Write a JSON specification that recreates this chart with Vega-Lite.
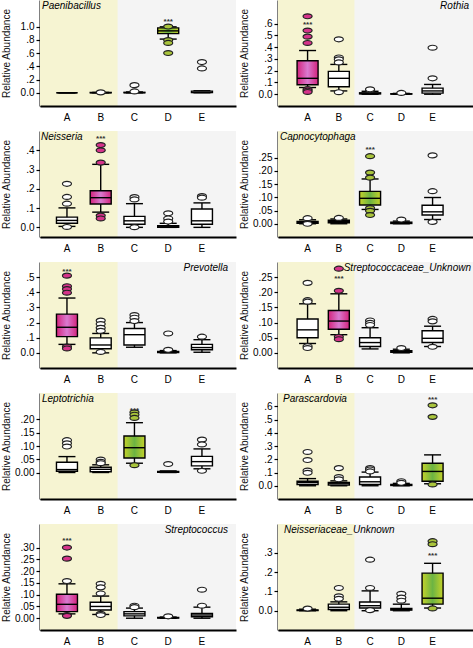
{
"$schema": "https://vega.github.io/schema/vega-lite/v6.json",
"padding": {"left": 0, "top": 0, "right": 0, "bottom": 0},
"background": "white",
"columns": 2,
"bounds": "flush",
"spacing": {"row": 25, "column": 42},
"config": {
  "font": "Liberation Sans",
  "view": {"stroke": null, "fill": "#f4f4f4"},
  "axisX": {"title": null, "ticks": false, "labelAngle": 0, "labelPadding": 6, "domainWidth": 2, "domainColor": "black", "labelFontSize": 10, "labelColor": "black", "labelFont": "Liberation Sans"},
  "axisY": {"grid": false, "domainWidth": 2, "domainColor": "black", "tickColor": "black", "tickWidth": 1.2, "tickSize": 4, "labelPadding": 2, "labelFontSize": 10, "labelColor": "black", "labelFont": "Liberation Sans", "labelFlush": false, "labelOverlap": false, "titleFontSize": 10, "titleFontWeight": "normal", "titleColor": "#111", "titleFont": "Liberation Sans", "titleX": -29, "titleBaseline": "bottom"},
  "title": {"fontSize": 10, "fontStyle": "italic", "fontWeight": "normal", "font": "Liberation Sans", "color": "black", "frame": "group", "offset": -11, "baseline": "alphabetic"}
},
"datasets": {
"rows": [
{"panel":"Paenibacillus","group":"A","lo":0,"q1":0,"median":0,"q3":0,"hi":0,"sig":0},
{"panel":"Paenibacillus","group":"B","lo":0,"q1":0,"median":0.001,"q3":0.003,"hi":0.005,"sig":0},
{"panel":"Paenibacillus","group":"C","lo":0,"q1":0,"median":0.002,"q3":0.006,"hi":0.012,"sig":0},
{"panel":"Paenibacillus","group":"D","lo":0.81,"q1":0.893,"median":0.934,"q3":0.98,"hi":0.995,"sig":1},
{"panel":"Paenibacillus","group":"E","lo":0,"q1":0.002,"median":0.006,"q3":0.025,"hi":0.03,"sig":0},
{"panel":"Paenibacillus","group":"B","outlier":0.006,"sig":0},
{"panel":"Paenibacillus","group":"C","outlier":0.02,"sig":0},
{"panel":"Paenibacillus","group":"C","outlier":0.115,"sig":0},
{"panel":"Paenibacillus","group":"D","outlier":1.0,"sig":1},
{"panel":"Paenibacillus","group":"D","outlier":0.795,"sig":1},
{"panel":"Paenibacillus","group":"D","outlier":0.752,"sig":1},
{"panel":"Paenibacillus","group":"D","outlier":0.6,"sig":1},
{"panel":"Paenibacillus","group":"E","outlier":0.463,"sig":0},
{"panel":"Paenibacillus","group":"E","outlier":0.367,"sig":0},
{"panel":"Paenibacillus","group":"D","star":1.095},
{"panel":"Rothia","group":"A","lo":0.057,"q1":0.08,"median":0.135,"q3":0.284,"hi":0.371,"sig":1},
{"panel":"Rothia","group":"B","lo":0.028,"q1":0.064,"median":0.135,"q3":0.194,"hi":0.253,"sig":0},
{"panel":"Rothia","group":"C","lo":0,"q1":0.003,"median":0.006,"q3":0.012,"hi":0.025,"sig":0},
{"panel":"Rothia","group":"D","lo":0,"q1":0.001,"median":0.002,"q3":0.004,"hi":0.007,"sig":0},
{"panel":"Rothia","group":"E","lo":0,"q1":0.009,"median":0.028,"q3":0.052,"hi":0.083,"sig":0},
{"panel":"Rothia","group":"A","outlier":0.662,"sig":1},
{"panel":"Rothia","group":"A","outlier":0.541,"sig":1},
{"panel":"Rothia","group":"A","outlier":0.489,"sig":1},
{"panel":"Rothia","group":"A","outlier":0.435,"sig":1},
{"panel":"Rothia","group":"A","outlier":0.043,"sig":1},
{"panel":"Rothia","group":"A","outlier":0.03,"sig":1},
{"panel":"Rothia","group":"A","outlier":0.019,"sig":1},
{"panel":"Rothia","group":"B","outlier":0.466,"sig":0},
{"panel":"Rothia","group":"B","outlier":0.312,"sig":0},
{"panel":"Rothia","group":"B","outlier":0.296,"sig":0},
{"panel":"Rothia","group":"B","outlier":0.27,"sig":0},
{"panel":"Rothia","group":"B","outlier":0.017,"sig":0},
{"panel":"Rothia","group":"C","outlier":0.035,"sig":0},
{"panel":"Rothia","group":"C","outlier":0.042,"sig":0},
{"panel":"Rothia","group":"D","outlier":0.011,"sig":0},
{"panel":"Rothia","group":"E","outlier":0.395,"sig":0},
{"panel":"Rothia","group":"E","outlier":0.135,"sig":0},
{"panel":"Rothia","group":"A","star":0.603},
{"panel":"Neisseria","group":"A","lo":0.005,"q1":0.021,"median":0.036,"q3":0.053,"hi":0.101,"sig":0},
{"panel":"Neisseria","group":"B","lo":0.079,"q1":0.121,"median":0.154,"q3":0.19,"hi":0.327,"sig":1},
{"panel":"Neisseria","group":"C","lo":0,"q1":0.016,"median":0.034,"q3":0.057,"hi":0.123,"sig":0},
{"panel":"Neisseria","group":"D","lo":0,"q1":0,"median":0.003,"q3":0.008,"hi":0.021,"sig":0},
{"panel":"Neisseria","group":"E","lo":0,"q1":0.016,"median":0.034,"q3":0.095,"hi":0.127,"sig":0},
{"panel":"Neisseria","group":"A","outlier":0.226,"sig":0},
{"panel":"Neisseria","group":"A","outlier":0.158,"sig":0},
{"panel":"Neisseria","group":"A","outlier":0.123,"sig":0},
{"panel":"Neisseria","group":"A","outlier":0.002,"sig":0},
{"panel":"Neisseria","group":"B","outlier":0.427,"sig":1},
{"panel":"Neisseria","group":"B","outlier":0.4,"sig":1},
{"panel":"Neisseria","group":"B","outlier":0.336,"sig":1},
{"panel":"Neisseria","group":"B","outlier":0.061,"sig":1},
{"panel":"Neisseria","group":"B","outlier":0.046,"sig":1},
{"panel":"Neisseria","group":"C","outlier":0.157,"sig":0},
{"panel":"Neisseria","group":"C","outlier":0.145,"sig":0},
{"panel":"Neisseria","group":"C","outlier":0.001,"sig":0},
{"panel":"Neisseria","group":"D","outlier":0.073,"sig":0},
{"panel":"Neisseria","group":"D","outlier":0.046,"sig":0},
{"panel":"Neisseria","group":"D","outlier":0.03,"sig":0},
{"panel":"Neisseria","group":"E","outlier":0.162,"sig":0},
{"panel":"Neisseria","group":"E","outlier":0.154,"sig":0},
{"panel":"Neisseria","group":"B","star":0.471},
{"panel":"Capnocytophaga","group":"A","lo":0,"q1":0.002,"median":0.005,"q3":0.009,"hi":0.015,"sig":0},
{"panel":"Capnocytophaga","group":"B","lo":0,"q1":0.004,"median":0.008,"q3":0.013,"hi":0.018,"sig":0},
{"panel":"Capnocytophaga","group":"C","lo":0.054,"q1":0.071,"median":0.096,"q3":0.122,"hi":0.169,"sig":1},
{"panel":"Capnocytophaga","group":"D","lo":0,"q1":0.001,"median":0.003,"q3":0.006,"hi":0.01,"sig":0},
{"panel":"Capnocytophaga","group":"E","lo":0.016,"q1":0.033,"median":0.045,"q3":0.07,"hi":0.099,"sig":0},
{"panel":"Capnocytophaga","group":"A","outlier":0.021,"sig":0},
{"panel":"Capnocytophaga","group":"A","outlier":0.0,"sig":0},
{"panel":"Capnocytophaga","group":"B","outlier":0.022,"sig":0},
{"panel":"Capnocytophaga","group":"C","outlier":0.255,"sig":1},
{"panel":"Capnocytophaga","group":"C","outlier":0.193,"sig":1},
{"panel":"Capnocytophaga","group":"C","outlier":0.174,"sig":1},
{"panel":"Capnocytophaga","group":"C","outlier":0.059,"sig":1},
{"panel":"Capnocytophaga","group":"C","outlier":0.049,"sig":1},
{"panel":"Capnocytophaga","group":"C","outlier":0.033,"sig":1},
{"panel":"Capnocytophaga","group":"D","outlier":0.016,"sig":0},
{"panel":"Capnocytophaga","group":"E","outlier":0.258,"sig":0},
{"panel":"Capnocytophaga","group":"E","outlier":0.123,"sig":0},
{"panel":"Capnocytophaga","group":"E","outlier":0.007,"sig":0},
{"panel":"Capnocytophaga","group":"C","star":0.284},
{"panel":"Prevotella","group":"A","lo":0.056,"q1":0.107,"median":0.169,"q3":0.256,"hi":0.362,"sig":1},
{"panel":"Prevotella","group":"B","lo":0,"q1":0.027,"median":0.052,"q3":0.099,"hi":0.128,"sig":0},
{"panel":"Prevotella","group":"C","lo":0.037,"q1":0.052,"median":0.12,"q3":0.161,"hi":0.2,"sig":0},
{"panel":"Prevotella","group":"D","lo":0,"q1":0.002,"median":0.005,"q3":0.01,"hi":0.015,"sig":0},
{"panel":"Prevotella","group":"E","lo":0.004,"q1":0.021,"median":0.035,"q3":0.056,"hi":0.087,"sig":0},
{"panel":"Prevotella","group":"A","outlier":0.51,"sig":1},
{"panel":"Prevotella","group":"A","outlier":0.44,"sig":1},
{"panel":"Prevotella","group":"A","outlier":0.421,"sig":1},
{"panel":"Prevotella","group":"A","outlier":0.397,"sig":1},
{"panel":"Prevotella","group":"A","outlier":0.041,"sig":1},
{"panel":"Prevotella","group":"A","outlier":0.029,"sig":1},
{"panel":"Prevotella","group":"B","outlier":0.213,"sig":0},
{"panel":"Prevotella","group":"B","outlier":0.19,"sig":0},
{"panel":"Prevotella","group":"B","outlier":0.165,"sig":0},
{"panel":"Prevotella","group":"B","outlier":0.145,"sig":0},
{"panel":"Prevotella","group":"B","outlier":0.006,"sig":0},
{"panel":"Prevotella","group":"C","outlier":0.25,"sig":0},
{"panel":"Prevotella","group":"C","outlier":0.232,"sig":0},
{"panel":"Prevotella","group":"C","outlier":0.21,"sig":0},
{"panel":"Prevotella","group":"D","outlier":0.02,"sig":0},
{"panel":"Prevotella","group":"D","outlier":0.128,"sig":0},
{"panel":"Prevotella","group":"E","outlier":0.107,"sig":0},
{"panel":"Prevotella","group":"A","star":0.548},
{"panel":"Streptococcaceae_Unknown","group":"A","lo":0.031,"q1":0.05,"median":0.076,"q3":0.112,"hi":0.162,"sig":0},
{"panel":"Streptococcaceae_Unknown","group":"B","lo":0.06,"q1":0.078,"median":0.105,"q3":0.14,"hi":0.195,"sig":1},
{"panel":"Streptococcaceae_Unknown","group":"C","lo":0.013,"q1":0.021,"median":0.034,"q3":0.05,"hi":0.083,"sig":0},
{"panel":"Streptococcaceae_Unknown","group":"D","lo":0,"q1":0.002,"median":0.004,"q3":0.007,"hi":0.012,"sig":0},
{"panel":"Streptococcaceae_Unknown","group":"E","lo":0.021,"q1":0.034,"median":0.048,"q3":0.073,"hi":0.088,"sig":0},
{"panel":"Streptococcaceae_Unknown","group":"A","outlier":0.231,"sig":0},
{"panel":"Streptococcaceae_Unknown","group":"A","outlier":0.174,"sig":0},
{"panel":"Streptococcaceae_Unknown","group":"A","outlier":0.169,"sig":0},
{"panel":"Streptococcaceae_Unknown","group":"A","outlier":0.022,"sig":0},
{"panel":"Streptococcaceae_Unknown","group":"A","outlier":0.016,"sig":0},
{"panel":"Streptococcaceae_Unknown","group":"B","outlier":0.278,"sig":1},
{"panel":"Streptococcaceae_Unknown","group":"B","outlier":0.205,"sig":1},
{"panel":"Streptococcaceae_Unknown","group":"B","outlier":0.053,"sig":1},
{"panel":"Streptococcaceae_Unknown","group":"B","outlier":0.045,"sig":1},
{"panel":"Streptococcaceae_Unknown","group":"C","outlier":0.107,"sig":0},
{"panel":"Streptococcaceae_Unknown","group":"C","outlier":0.099,"sig":0},
{"panel":"Streptococcaceae_Unknown","group":"C","outlier":0.092,"sig":0},
{"panel":"Streptococcaceae_Unknown","group":"D","outlier":0.016,"sig":0},
{"panel":"Streptococcaceae_Unknown","group":"E","outlier":0.112,"sig":0},
{"panel":"Streptococcaceae_Unknown","group":"E","outlier":0.104,"sig":0},
{"panel":"Streptococcaceae_Unknown","group":"E","outlier":0.02,"sig":0},
{"panel":"Streptococcaceae_Unknown","group":"B","star":0.25},
{"panel":"Leptotrichia","group":"A","lo":0,"q1":0.005,"median":0.011,"q3":0.0385,"hi":0.06,"sig":0},
{"panel":"Leptotrichia","group":"B","lo":0,"q1":0.003,"median":0.012,"q3":0.02,"hi":0.029,"sig":0},
{"panel":"Leptotrichia","group":"C","lo":0.035,"q1":0.055,"median":0.0935,"q3":0.1375,"hi":0.188,"sig":1},
{"panel":"Leptotrichia","group":"D","lo":0,"q1":0.001,"median":0.002,"q3":0.004,"hi":0.006,"sig":0},
{"panel":"Leptotrichia","group":"E","lo":0.014,"q1":0.025,"median":0.041,"q3":0.061,"hi":0.089,"sig":0},
{"panel":"Leptotrichia","group":"A","outlier":0.122,"sig":0},
{"panel":"Leptotrichia","group":"A","outlier":0.11,"sig":0},
{"panel":"Leptotrichia","group":"A","outlier":0.098,"sig":0},
{"panel":"Leptotrichia","group":"B","outlier":0.049,"sig":0},
{"panel":"Leptotrichia","group":"B","outlier":0.04,"sig":0},
{"panel":"Leptotrichia","group":"B","outlier":0.035,"sig":0},
{"panel":"Leptotrichia","group":"C","outlier":0.227,"sig":1},
{"panel":"Leptotrichia","group":"C","outlier":0.218,"sig":1},
{"panel":"Leptotrichia","group":"C","outlier":0.206,"sig":1},
{"panel":"Leptotrichia","group":"C","outlier":0.0275,"sig":1},
{"panel":"Leptotrichia","group":"D","outlier":0.032,"sig":0},
{"panel":"Leptotrichia","group":"E","outlier":0.124,"sig":0},
{"panel":"Leptotrichia","group":"E","outlier":0.106,"sig":0},
{"panel":"Leptotrichia","group":"E","outlier":0.0065,"sig":0},
{"panel":"Leptotrichia","group":"C","star":0.238},
{"panel":"Parascardovia","group":"A","lo":0,"q1":0.01,"median":0.025,"q3":0.034,"hi":0.054,"sig":0},
{"panel":"Parascardovia","group":"B","lo":0,"q1":0.005,"median":0.015,"q3":0.025,"hi":0.037,"sig":0},
{"panel":"Parascardovia","group":"C","lo":0,"q1":0.01,"median":0.03,"q3":0.066,"hi":0.103,"sig":0},
{"panel":"Parascardovia","group":"D","lo":0,"q1":0.002,"median":0.005,"q3":0.01,"hi":0.018,"sig":0},
{"panel":"Parascardovia","group":"E","lo":0.015,"q1":0.034,"median":0.108,"q3":0.17,"hi":0.233,"sig":1},
{"panel":"Parascardovia","group":"A","outlier":0.255,"sig":0},
{"panel":"Parascardovia","group":"A","outlier":0.194,"sig":0},
{"panel":"Parascardovia","group":"A","outlier":0.115,"sig":0},
{"panel":"Parascardovia","group":"A","outlier":0.098,"sig":0},
{"panel":"Parascardovia","group":"B","outlier":0.133,"sig":0},
{"panel":"Parascardovia","group":"B","outlier":0.066,"sig":0},
{"panel":"Parascardovia","group":"B","outlier":0.049,"sig":0},
{"panel":"Parascardovia","group":"C","outlier":0.133,"sig":0},
{"panel":"Parascardovia","group":"C","outlier":0.123,"sig":0},
{"panel":"Parascardovia","group":"C","outlier":0.108,"sig":0},
{"panel":"Parascardovia","group":"D","outlier":0.034,"sig":0},
{"panel":"Parascardovia","group":"D","outlier":0.022,"sig":0},
{"panel":"Parascardovia","group":"E","outlier":0.607,"sig":1},
{"panel":"Parascardovia","group":"E","outlier":0.52,"sig":1},
{"panel":"Parascardovia","group":"E","outlier":0.01,"sig":1},
{"panel":"Parascardovia","group":"E","star":0.663},
{"panel":"Streptococcus","group":"A","lo":0.0185,"q1":0.028,"median":0.059,"q3":0.102,"hi":0.146,"sig":1},
{"panel":"Streptococcus","group":"B","lo":0.016,"q1":0.035,"median":0.05,"q3":0.068,"hi":0.094,"sig":0},
{"panel":"Streptococcus","group":"C","lo":0,"q1":0.01,"median":0.0185,"q3":0.028,"hi":0.043,"sig":0},
{"panel":"Streptococcus","group":"D","lo":0,"q1":0.001,"median":0.002,"q3":0.003,"hi":0.005,"sig":0},
{"panel":"Streptococcus","group":"E","lo":0,"q1":0.006,"median":0.0136,"q3":0.02,"hi":0.047,"sig":0},
{"panel":"Streptococcus","group":"A","outlier":0.3,"sig":1},
{"panel":"Streptococcus","group":"A","outlier":0.253,"sig":1},
{"panel":"Streptococcus","group":"A","outlier":0.158,"sig":0},
{"panel":"Streptococcus","group":"A","outlier":0.0136,"sig":1},
{"panel":"Streptococcus","group":"A","outlier":0.01,"sig":1},
{"panel":"Streptococcus","group":"B","outlier":0.146,"sig":0},
{"panel":"Streptococcus","group":"B","outlier":0.131,"sig":0},
{"panel":"Streptococcus","group":"B","outlier":0.105,"sig":0},
{"panel":"Streptococcus","group":"B","outlier":0.0185,"sig":0},
{"panel":"Streptococcus","group":"B","outlier":0.0136,"sig":0},
{"panel":"Streptococcus","group":"C","outlier":0.053,"sig":0},
{"panel":"Streptococcus","group":"C","outlier":0.047,"sig":0},
{"panel":"Streptococcus","group":"D","outlier":0.008,"sig":0},
{"panel":"Streptococcus","group":"E","outlier":0.121,"sig":0},
{"panel":"Streptococcus","group":"E","outlier":0.053,"sig":0},
{"panel":"Streptococcus","group":"A","star":0.335},
{"panel":"Neisseriaceae_Unknown","group":"A","lo":0,"q1":0.001,"median":0.002,"q3":0.004,"hi":0.008,"sig":0},
{"panel":"Neisseriaceae_Unknown","group":"B","lo":0,"q1":0.006,"median":0.018,"q3":0.034,"hi":0.046,"sig":0},
{"panel":"Neisseriaceae_Unknown","group":"C","lo":0,"q1":0.014,"median":0.026,"q3":0.045,"hi":0.103,"sig":0},
{"panel":"Neisseriaceae_Unknown","group":"D","lo":0,"q1":0.003,"median":0.006,"q3":0.012,"hi":0.034,"sig":0},
{"panel":"Neisseriaceae_Unknown","group":"E","lo":0.014,"q1":0.034,"median":0.065,"q3":0.195,"hi":0.246,"sig":1},
{"panel":"Neisseriaceae_Unknown","group":"A","outlier":0.011,"sig":0},
{"panel":"Neisseriaceae_Unknown","group":"B","outlier":0.118,"sig":0},
{"panel":"Neisseriaceae_Unknown","group":"B","outlier":0.075,"sig":0},
{"panel":"Neisseriaceae_Unknown","group":"B","outlier":0.062,"sig":0},
{"panel":"Neisseriaceae_Unknown","group":"C","outlier":0.265,"sig":0},
{"panel":"Neisseriaceae_Unknown","group":"C","outlier":0.118,"sig":0},
{"panel":"Neisseriaceae_Unknown","group":"C","outlier":0.003,"sig":0},
{"panel":"Neisseriaceae_Unknown","group":"D","outlier":0.088,"sig":0},
{"panel":"Neisseriaceae_Unknown","group":"D","outlier":0.068,"sig":0},
{"panel":"Neisseriaceae_Unknown","group":"D","outlier":0.052,"sig":0},
{"panel":"Neisseriaceae_Unknown","group":"E","outlier":0.361,"sig":1},
{"panel":"Neisseriaceae_Unknown","group":"E","outlier":0.345,"sig":1},
{"panel":"Neisseriaceae_Unknown","group":"E","outlier":0.012,"sig":1},
{"panel":"Neisseriaceae_Unknown","group":"E","star":0.295}
]
},
"concat": [
{
 "title": {"text": "Paenibacillus", "anchor": "start", "dx": 2},
 "width": 196, "height": 106, "data": {"name": "rows"},
 "transform": [{"filter": "datum.panel == 'Paenibacillus'"}],
 "encoding": {"x": {"field": "group", "type": "nominal", "title": null, "scale": {"domain": ["A","B","C","D","E"], "paddingInner": 0, "paddingOuter": 0.404, "align": 0.37}}},
 "layer": [
  {"transform": [{"filter": "isValid(datum.q1) && datum.group == 'C'"}], "mark": {"type": "rect", "fill": "#f6f4d2"}, "encoding": {"x": {"field": "group", "type": "nominal", "bandPosition": 0}, "x2": {"value": 0}, "y": {"value": 0}, "y2": {"value": "height"}}},
  {"transform": [{"filter": "isValid(datum.q1)"}], "mark": {"type": "rule", "color": "black", "strokeWidth": 1.4}, "encoding": {"y": {"field": "lo", "type": "quantitative", "title": "Relative Abundance", "scale": {"domain": [-0.12, 1.207]}, "axis": {"values": [0, 0.2, 0.4, 0.6, 0.8, 1.0], "tickCount": 20, "format": ".1f", "labelOverlap": false, "labelExpr": "datum.value == 0 ? datum.label : replace(datum.label, '0.', '.')"}}, "y2": {"field": "hi"}}},
  {"transform": [{"filter": "isValid(datum.q1)"}], "mark": {"type": "tick", "color": "black", "size": 17, "thickness": 1.4, "opacity": 1}, "encoding": {"y": {"field": "lo", "type": "quantitative", "title": "Relative Abundance"}}},
  {"transform": [{"filter": "isValid(datum.q1)"}], "mark": {"type": "tick", "color": "black", "size": 17, "thickness": 1.4, "opacity": 1}, "encoding": {"y": {"field": "hi", "type": "quantitative", "title": "Relative Abundance"}}},
  {"transform": [{"filter": "isValid(datum.q1)"}], "mark": {"type": "bar", "width": 21, "stroke": "black", "strokeWidth": 1.4, "opacity": 1}, "encoding": {"y": {"field": "q1", "type": "quantitative", "title": "Relative Abundance"}, "y2": {"field": "q3"}, "fill": {"condition": [{"test": "datum.sig == 1 && (datum.group == 'A' || datum.group == 'B')", "value": {"gradient": "linear", "x1": 0, "y1": 0, "x2": 1, "y2": 0, "stops": [{"offset": 0, "color": "#d4237c"}, {"offset": 0.5, "color": "#d97ad0"}, {"offset": 1, "color": "#d4237c"}]}}, {"test": "datum.sig == 1", "value": {"gradient": "linear", "x1": 0, "y1": 0, "x2": 1, "y2": 0, "stops": [{"offset": 0, "color": "#c4d22a"}, {"offset": 0.5, "color": "#6cb443"}, {"offset": 1, "color": "#c4d22a"}]}}], "value": "white"}}},
  {"transform": [{"filter": "isValid(datum.q1)"}], "mark": {"type": "tick", "color": "black", "size": 21, "thickness": 1.4, "opacity": 1}, "encoding": {"y": {"field": "median", "type": "quantitative", "title": "Relative Abundance"}}},
  {"transform": [{"filter": "isValid(datum.outlier)"}], "mark": {"type": "point", "filled": true, "shape": "M-1,0A1,0.55,0,1,1,1,0A1,0.55,0,1,1,-1,0Z", "size": 81, "stroke": "#222", "strokeWidth": 1.2, "opacity": 1}, "encoding": {"y": {"field": "outlier", "type": "quantitative", "title": "Relative Abundance"}, "fill": {"condition": [{"test": "datum.sig == 1 && (datum.group == 'A' || datum.group == 'B')", "value": "#d6338a"}, {"test": "datum.sig == 1", "value": "#a9c43c"}], "value": "white"}}},
  {"transform": [{"filter": "isValid(datum.star)"}], "mark": {"type": "text", "text": "***", "fontSize": 8, "fontWeight": "bold", "color": "#333", "baseline": "middle", "dy": 2}, "encoding": {"y": {"field": "star", "type": "quantitative", "title": "Relative Abundance"}}}
 ]
},
{
 "title": {"text": "Rothia", "anchor": "end", "dx": -4},
 "width": 195, "height": 106, "data": {"name": "rows"},
 "transform": [{"filter": "datum.panel == 'Rothia'"}],
 "encoding": {"x": {"field": "group", "type": "nominal", "title": null, "scale": {"domain": ["A","B","C","D","E"], "paddingInner": 0, "paddingOuter": 0.62, "align": 0.36}}},
 "layer": [
  {"transform": [{"filter": "isValid(datum.q1) && datum.group == 'C'"}], "mark": {"type": "rect", "fill": "#f6f4d2"}, "encoding": {"x": {"field": "group", "type": "nominal", "bandPosition": 0}, "x2": {"value": 0}, "y": {"value": 0}, "y2": {"value": "height"}}},
  {"transform": [{"filter": "isValid(datum.q1)"}], "mark": {"type": "rule", "color": "black", "strokeWidth": 1.4}, "encoding": {"y": {"field": "lo", "type": "quantitative", "title": "Relative Abundance", "scale": {"domain": [-0.064, 0.701]}, "axis": {"values": [0, 0.1, 0.2, 0.3, 0.4, 0.5, 0.6], "tickCount": 20, "format": ".1f", "labelOverlap": false, "labelExpr": "datum.value == 0 ? datum.label : replace(datum.label, '0.', '.')"}}, "y2": {"field": "hi"}}},
  {"transform": [{"filter": "isValid(datum.q1)"}], "mark": {"type": "tick", "color": "black", "size": 17, "thickness": 1.4, "opacity": 1}, "encoding": {"y": {"field": "lo", "type": "quantitative", "title": "Relative Abundance"}}},
  {"transform": [{"filter": "isValid(datum.q1)"}], "mark": {"type": "tick", "color": "black", "size": 17, "thickness": 1.4, "opacity": 1}, "encoding": {"y": {"field": "hi", "type": "quantitative", "title": "Relative Abundance"}}},
  {"transform": [{"filter": "isValid(datum.q1)"}], "mark": {"type": "bar", "width": 21, "stroke": "black", "strokeWidth": 1.4, "opacity": 1}, "encoding": {"y": {"field": "q1", "type": "quantitative", "title": "Relative Abundance"}, "y2": {"field": "q3"}, "fill": {"condition": [{"test": "datum.sig == 1 && (datum.group == 'A' || datum.group == 'B')", "value": {"gradient": "linear", "x1": 0, "y1": 0, "x2": 1, "y2": 0, "stops": [{"offset": 0, "color": "#d4237c"}, {"offset": 0.5, "color": "#d97ad0"}, {"offset": 1, "color": "#d4237c"}]}}, {"test": "datum.sig == 1", "value": {"gradient": "linear", "x1": 0, "y1": 0, "x2": 1, "y2": 0, "stops": [{"offset": 0, "color": "#c4d22a"}, {"offset": 0.5, "color": "#6cb443"}, {"offset": 1, "color": "#c4d22a"}]}}], "value": "white"}}},
  {"transform": [{"filter": "isValid(datum.q1)"}], "mark": {"type": "tick", "color": "black", "size": 21, "thickness": 1.4, "opacity": 1}, "encoding": {"y": {"field": "median", "type": "quantitative", "title": "Relative Abundance"}}},
  {"transform": [{"filter": "isValid(datum.outlier)"}], "mark": {"type": "point", "filled": true, "shape": "M-1,0A1,0.55,0,1,1,1,0A1,0.55,0,1,1,-1,0Z", "size": 81, "stroke": "#222", "strokeWidth": 1.2, "opacity": 1}, "encoding": {"y": {"field": "outlier", "type": "quantitative", "title": "Relative Abundance"}, "fill": {"condition": [{"test": "datum.sig == 1 && (datum.group == 'A' || datum.group == 'B')", "value": "#d6338a"}, {"test": "datum.sig == 1", "value": "#a9c43c"}], "value": "white"}}},
  {"transform": [{"filter": "isValid(datum.star)"}], "mark": {"type": "text", "text": "***", "fontSize": 8, "fontWeight": "bold", "color": "#333", "baseline": "middle", "dy": 2}, "encoding": {"y": {"field": "star", "type": "quantitative", "title": "Relative Abundance"}}}
 ]
},
{
 "title": {"text": "Neisseria", "anchor": "start", "dx": 1},
 "width": 196, "height": 106, "data": {"name": "rows"},
 "transform": [{"filter": "datum.panel == 'Neisseria'"}],
 "encoding": {"x": {"field": "group", "type": "nominal", "title": null, "scale": {"domain": ["A","B","C","D","E"], "paddingInner": 0, "paddingOuter": 0.404, "align": 0.37}}},
 "layer": [
  {"transform": [{"filter": "isValid(datum.q1) && datum.group == 'C'"}], "mark": {"type": "rect", "fill": "#f6f4d2"}, "encoding": {"x": {"field": "group", "type": "nominal", "bandPosition": 0}, "x2": {"value": 0}, "y": {"value": 0}, "y2": {"value": "height"}}},
  {"transform": [{"filter": "isValid(datum.q1)"}], "mark": {"type": "rule", "color": "black", "strokeWidth": 1.4}, "encoding": {"y": {"field": "lo", "type": "quantitative", "title": "Relative Abundance", "scale": {"domain": [-0.043, 0.5]}, "axis": {"values": [0, 0.1, 0.2, 0.3, 0.4], "tickCount": 20, "format": ".1f", "labelOverlap": false, "labelExpr": "datum.value == 0 ? datum.label : replace(datum.label, '0.', '.')"}}, "y2": {"field": "hi"}}},
  {"transform": [{"filter": "isValid(datum.q1)"}], "mark": {"type": "tick", "color": "black", "size": 17, "thickness": 1.4, "opacity": 1}, "encoding": {"y": {"field": "lo", "type": "quantitative", "title": "Relative Abundance"}}},
  {"transform": [{"filter": "isValid(datum.q1)"}], "mark": {"type": "tick", "color": "black", "size": 17, "thickness": 1.4, "opacity": 1}, "encoding": {"y": {"field": "hi", "type": "quantitative", "title": "Relative Abundance"}}},
  {"transform": [{"filter": "isValid(datum.q1)"}], "mark": {"type": "bar", "width": 21, "stroke": "black", "strokeWidth": 1.4, "opacity": 1}, "encoding": {"y": {"field": "q1", "type": "quantitative", "title": "Relative Abundance"}, "y2": {"field": "q3"}, "fill": {"condition": [{"test": "datum.sig == 1 && (datum.group == 'A' || datum.group == 'B')", "value": {"gradient": "linear", "x1": 0, "y1": 0, "x2": 1, "y2": 0, "stops": [{"offset": 0, "color": "#d4237c"}, {"offset": 0.5, "color": "#d97ad0"}, {"offset": 1, "color": "#d4237c"}]}}, {"test": "datum.sig == 1", "value": {"gradient": "linear", "x1": 0, "y1": 0, "x2": 1, "y2": 0, "stops": [{"offset": 0, "color": "#c4d22a"}, {"offset": 0.5, "color": "#6cb443"}, {"offset": 1, "color": "#c4d22a"}]}}], "value": "white"}}},
  {"transform": [{"filter": "isValid(datum.q1)"}], "mark": {"type": "tick", "color": "black", "size": 21, "thickness": 1.4, "opacity": 1}, "encoding": {"y": {"field": "median", "type": "quantitative", "title": "Relative Abundance"}}},
  {"transform": [{"filter": "isValid(datum.outlier)"}], "mark": {"type": "point", "filled": true, "shape": "M-1,0A1,0.55,0,1,1,1,0A1,0.55,0,1,1,-1,0Z", "size": 81, "stroke": "#222", "strokeWidth": 1.2, "opacity": 1}, "encoding": {"y": {"field": "outlier", "type": "quantitative", "title": "Relative Abundance"}, "fill": {"condition": [{"test": "datum.sig == 1 && (datum.group == 'A' || datum.group == 'B')", "value": "#d6338a"}, {"test": "datum.sig == 1", "value": "#a9c43c"}], "value": "white"}}},
  {"transform": [{"filter": "isValid(datum.star)"}], "mark": {"type": "text", "text": "***", "fontSize": 8, "fontWeight": "bold", "color": "#333", "baseline": "middle", "dy": 2}, "encoding": {"y": {"field": "star", "type": "quantitative", "title": "Relative Abundance"}}}
 ]
},
{
 "title": {"text": "Capnocytophaga", "anchor": "start", "dx": 2},
 "width": 195, "height": 106, "data": {"name": "rows"},
 "transform": [{"filter": "datum.panel == 'Capnocytophaga'"}],
 "encoding": {"x": {"field": "group", "type": "nominal", "title": null, "scale": {"domain": ["A","B","C","D","E"], "paddingInner": 0, "paddingOuter": 0.62, "align": 0.36}}},
 "layer": [
  {"transform": [{"filter": "isValid(datum.q1) && datum.group == 'C'"}], "mark": {"type": "rect", "fill": "#f6f4d2"}, "encoding": {"x": {"field": "group", "type": "nominal", "bandPosition": 0}, "x2": {"value": 0}, "y": {"value": 0}, "y2": {"value": "height"}}},
  {"transform": [{"filter": "isValid(datum.q1)"}], "mark": {"type": "rule", "color": "black", "strokeWidth": 1.4}, "encoding": {"y": {"field": "lo", "type": "quantitative", "title": "Relative Abundance", "scale": {"domain": [-0.047, 0.302]}, "axis": {"values": [0, 0.05, 0.1, 0.15, 0.2, 0.25], "tickCount": 20, "format": ".2f", "labelOverlap": false, "labelExpr": "datum.value == 0 ? datum.label : replace(datum.label, '0.', '.')"}}, "y2": {"field": "hi"}}},
  {"transform": [{"filter": "isValid(datum.q1)"}], "mark": {"type": "tick", "color": "black", "size": 17, "thickness": 1.4, "opacity": 1}, "encoding": {"y": {"field": "lo", "type": "quantitative", "title": "Relative Abundance"}}},
  {"transform": [{"filter": "isValid(datum.q1)"}], "mark": {"type": "tick", "color": "black", "size": 17, "thickness": 1.4, "opacity": 1}, "encoding": {"y": {"field": "hi", "type": "quantitative", "title": "Relative Abundance"}}},
  {"transform": [{"filter": "isValid(datum.q1)"}], "mark": {"type": "bar", "width": 21, "stroke": "black", "strokeWidth": 1.4, "opacity": 1}, "encoding": {"y": {"field": "q1", "type": "quantitative", "title": "Relative Abundance"}, "y2": {"field": "q3"}, "fill": {"condition": [{"test": "datum.sig == 1 && (datum.group == 'A' || datum.group == 'B')", "value": {"gradient": "linear", "x1": 0, "y1": 0, "x2": 1, "y2": 0, "stops": [{"offset": 0, "color": "#d4237c"}, {"offset": 0.5, "color": "#d97ad0"}, {"offset": 1, "color": "#d4237c"}]}}, {"test": "datum.sig == 1", "value": {"gradient": "linear", "x1": 0, "y1": 0, "x2": 1, "y2": 0, "stops": [{"offset": 0, "color": "#c4d22a"}, {"offset": 0.5, "color": "#6cb443"}, {"offset": 1, "color": "#c4d22a"}]}}], "value": "white"}}},
  {"transform": [{"filter": "isValid(datum.q1)"}], "mark": {"type": "tick", "color": "black", "size": 21, "thickness": 1.4, "opacity": 1}, "encoding": {"y": {"field": "median", "type": "quantitative", "title": "Relative Abundance"}}},
  {"transform": [{"filter": "isValid(datum.outlier)"}], "mark": {"type": "point", "filled": true, "shape": "M-1,0A1,0.55,0,1,1,1,0A1,0.55,0,1,1,-1,0Z", "size": 81, "stroke": "#222", "strokeWidth": 1.2, "opacity": 1}, "encoding": {"y": {"field": "outlier", "type": "quantitative", "title": "Relative Abundance"}, "fill": {"condition": [{"test": "datum.sig == 1 && (datum.group == 'A' || datum.group == 'B')", "value": "#d6338a"}, {"test": "datum.sig == 1", "value": "#a9c43c"}], "value": "white"}}},
  {"transform": [{"filter": "isValid(datum.star)"}], "mark": {"type": "text", "text": "***", "fontSize": 8, "fontWeight": "bold", "color": "#333", "baseline": "middle", "dy": 2}, "encoding": {"y": {"field": "star", "type": "quantitative", "title": "Relative Abundance"}}}
 ]
},
{
 "title": {"text": "Prevotella", "anchor": "end", "dx": -8},
 "width": 196, "height": 106, "data": {"name": "rows"},
 "transform": [{"filter": "datum.panel == 'Prevotella'"}],
 "encoding": {"x": {"field": "group", "type": "nominal", "title": null, "scale": {"domain": ["A","B","C","D","E"], "paddingInner": 0, "paddingOuter": 0.404, "align": 0.37}}},
 "layer": [
  {"transform": [{"filter": "isValid(datum.q1) && datum.group == 'C'"}], "mark": {"type": "rect", "fill": "#f6f4d2"}, "encoding": {"x": {"field": "group", "type": "nominal", "bandPosition": 0}, "x2": {"value": 0}, "y": {"value": 0}, "y2": {"value": "height"}}},
  {"transform": [{"filter": "isValid(datum.q1)"}], "mark": {"type": "rule", "color": "black", "strokeWidth": 1.4}, "encoding": {"y": {"field": "lo", "type": "quantitative", "title": "Relative Abundance", "scale": {"domain": [-0.087, 0.595]}, "axis": {"values": [0, 0.1, 0.2, 0.3, 0.4, 0.5], "tickCount": 20, "format": ".1f", "labelOverlap": false, "labelExpr": "datum.value == 0 ? datum.label : replace(datum.label, '0.', '.')"}}, "y2": {"field": "hi"}}},
  {"transform": [{"filter": "isValid(datum.q1)"}], "mark": {"type": "tick", "color": "black", "size": 17, "thickness": 1.4, "opacity": 1}, "encoding": {"y": {"field": "lo", "type": "quantitative", "title": "Relative Abundance"}}},
  {"transform": [{"filter": "isValid(datum.q1)"}], "mark": {"type": "tick", "color": "black", "size": 17, "thickness": 1.4, "opacity": 1}, "encoding": {"y": {"field": "hi", "type": "quantitative", "title": "Relative Abundance"}}},
  {"transform": [{"filter": "isValid(datum.q1)"}], "mark": {"type": "bar", "width": 21, "stroke": "black", "strokeWidth": 1.4, "opacity": 1}, "encoding": {"y": {"field": "q1", "type": "quantitative", "title": "Relative Abundance"}, "y2": {"field": "q3"}, "fill": {"condition": [{"test": "datum.sig == 1 && (datum.group == 'A' || datum.group == 'B')", "value": {"gradient": "linear", "x1": 0, "y1": 0, "x2": 1, "y2": 0, "stops": [{"offset": 0, "color": "#d4237c"}, {"offset": 0.5, "color": "#d97ad0"}, {"offset": 1, "color": "#d4237c"}]}}, {"test": "datum.sig == 1", "value": {"gradient": "linear", "x1": 0, "y1": 0, "x2": 1, "y2": 0, "stops": [{"offset": 0, "color": "#c4d22a"}, {"offset": 0.5, "color": "#6cb443"}, {"offset": 1, "color": "#c4d22a"}]}}], "value": "white"}}},
  {"transform": [{"filter": "isValid(datum.q1)"}], "mark": {"type": "tick", "color": "black", "size": 21, "thickness": 1.4, "opacity": 1}, "encoding": {"y": {"field": "median", "type": "quantitative", "title": "Relative Abundance"}}},
  {"transform": [{"filter": "isValid(datum.outlier)"}], "mark": {"type": "point", "filled": true, "shape": "M-1,0A1,0.55,0,1,1,1,0A1,0.55,0,1,1,-1,0Z", "size": 81, "stroke": "#222", "strokeWidth": 1.2, "opacity": 1}, "encoding": {"y": {"field": "outlier", "type": "quantitative", "title": "Relative Abundance"}, "fill": {"condition": [{"test": "datum.sig == 1 && (datum.group == 'A' || datum.group == 'B')", "value": "#d6338a"}, {"test": "datum.sig == 1", "value": "#a9c43c"}], "value": "white"}}},
  {"transform": [{"filter": "isValid(datum.star)"}], "mark": {"type": "text", "text": "***", "fontSize": 8, "fontWeight": "bold", "color": "#333", "baseline": "middle", "dy": 2}, "encoding": {"y": {"field": "star", "type": "quantitative", "title": "Relative Abundance"}}}
 ]
},
{
 "title": {"text": "Streptococcaceae_Unknown", "anchor": "end", "dx": -2},
 "width": 195, "height": 106, "data": {"name": "rows"},
 "transform": [{"filter": "datum.panel == 'Streptococcaceae_Unknown'"}],
 "encoding": {"x": {"field": "group", "type": "nominal", "title": null, "scale": {"domain": ["A","B","C","D","E"], "paddingInner": 0, "paddingOuter": 0.62, "align": 0.36}}},
 "layer": [
  {"transform": [{"filter": "isValid(datum.q1) && datum.group == 'C'"}], "mark": {"type": "rect", "fill": "#f6f4d2"}, "encoding": {"x": {"field": "group", "type": "nominal", "bandPosition": 0}, "x2": {"value": 0}, "y": {"value": 0}, "y2": {"value": "height"}}},
  {"transform": [{"filter": "isValid(datum.q1)"}], "mark": {"type": "rule", "color": "black", "strokeWidth": 1.4}, "encoding": {"y": {"field": "lo", "type": "quantitative", "title": "Relative Abundance", "scale": {"domain": [-0.04, 0.297]}, "axis": {"values": [0, 0.05, 0.1, 0.15, 0.2, 0.25], "tickCount": 20, "format": ".2f", "labelOverlap": false, "labelExpr": "datum.value == 0 ? datum.label : replace(datum.label, '0.', '.')"}}, "y2": {"field": "hi"}}},
  {"transform": [{"filter": "isValid(datum.q1)"}], "mark": {"type": "tick", "color": "black", "size": 17, "thickness": 1.4, "opacity": 1}, "encoding": {"y": {"field": "lo", "type": "quantitative", "title": "Relative Abundance"}}},
  {"transform": [{"filter": "isValid(datum.q1)"}], "mark": {"type": "tick", "color": "black", "size": 17, "thickness": 1.4, "opacity": 1}, "encoding": {"y": {"field": "hi", "type": "quantitative", "title": "Relative Abundance"}}},
  {"transform": [{"filter": "isValid(datum.q1)"}], "mark": {"type": "bar", "width": 21, "stroke": "black", "strokeWidth": 1.4, "opacity": 1}, "encoding": {"y": {"field": "q1", "type": "quantitative", "title": "Relative Abundance"}, "y2": {"field": "q3"}, "fill": {"condition": [{"test": "datum.sig == 1 && (datum.group == 'A' || datum.group == 'B')", "value": {"gradient": "linear", "x1": 0, "y1": 0, "x2": 1, "y2": 0, "stops": [{"offset": 0, "color": "#d4237c"}, {"offset": 0.5, "color": "#d97ad0"}, {"offset": 1, "color": "#d4237c"}]}}, {"test": "datum.sig == 1", "value": {"gradient": "linear", "x1": 0, "y1": 0, "x2": 1, "y2": 0, "stops": [{"offset": 0, "color": "#c4d22a"}, {"offset": 0.5, "color": "#6cb443"}, {"offset": 1, "color": "#c4d22a"}]}}], "value": "white"}}},
  {"transform": [{"filter": "isValid(datum.q1)"}], "mark": {"type": "tick", "color": "black", "size": 21, "thickness": 1.4, "opacity": 1}, "encoding": {"y": {"field": "median", "type": "quantitative", "title": "Relative Abundance"}}},
  {"transform": [{"filter": "isValid(datum.outlier)"}], "mark": {"type": "point", "filled": true, "shape": "M-1,0A1,0.55,0,1,1,1,0A1,0.55,0,1,1,-1,0Z", "size": 81, "stroke": "#222", "strokeWidth": 1.2, "opacity": 1}, "encoding": {"y": {"field": "outlier", "type": "quantitative", "title": "Relative Abundance"}, "fill": {"condition": [{"test": "datum.sig == 1 && (datum.group == 'A' || datum.group == 'B')", "value": "#d6338a"}, {"test": "datum.sig == 1", "value": "#a9c43c"}], "value": "white"}}},
  {"transform": [{"filter": "isValid(datum.star)"}], "mark": {"type": "text", "text": "***", "fontSize": 8, "fontWeight": "bold", "color": "#333", "baseline": "middle", "dy": 2}, "encoding": {"y": {"field": "star", "type": "quantitative", "title": "Relative Abundance"}}}
 ]
},
{
 "title": {"text": "Leptotrichia", "anchor": "start", "dx": 2},
 "width": 196, "height": 106, "data": {"name": "rows"},
 "transform": [{"filter": "datum.panel == 'Leptotrichia'"}],
 "encoding": {"x": {"field": "group", "type": "nominal", "title": null, "scale": {"domain": ["A","B","C","D","E"], "paddingInner": 0, "paddingOuter": 0.404, "align": 0.37}}},
 "layer": [
  {"transform": [{"filter": "isValid(datum.q1) && datum.group == 'C'"}], "mark": {"type": "rect", "fill": "#f6f4d2"}, "encoding": {"x": {"field": "group", "type": "nominal", "bandPosition": 0}, "x2": {"value": 0}, "y": {"value": 0}, "y2": {"value": "height"}}},
  {"transform": [{"filter": "isValid(datum.q1)"}], "mark": {"type": "rule", "color": "black", "strokeWidth": 1.4}, "encoding": {"y": {"field": "lo", "type": "quantitative", "title": "Relative Abundance", "scale": {"domain": [-0.044, 0.252]}, "axis": {"values": [0, 0.05, 0.1, 0.15, 0.2], "tickCount": 20, "format": ".2f", "labelOverlap": false, "labelExpr": "datum.value == 0 ? datum.label : replace(datum.label, '0.', '.')"}}, "y2": {"field": "hi"}}},
  {"transform": [{"filter": "isValid(datum.q1)"}], "mark": {"type": "tick", "color": "black", "size": 17, "thickness": 1.4, "opacity": 1}, "encoding": {"y": {"field": "lo", "type": "quantitative", "title": "Relative Abundance"}}},
  {"transform": [{"filter": "isValid(datum.q1)"}], "mark": {"type": "tick", "color": "black", "size": 17, "thickness": 1.4, "opacity": 1}, "encoding": {"y": {"field": "hi", "type": "quantitative", "title": "Relative Abundance"}}},
  {"transform": [{"filter": "isValid(datum.q1)"}], "mark": {"type": "bar", "width": 21, "stroke": "black", "strokeWidth": 1.4, "opacity": 1}, "encoding": {"y": {"field": "q1", "type": "quantitative", "title": "Relative Abundance"}, "y2": {"field": "q3"}, "fill": {"condition": [{"test": "datum.sig == 1 && (datum.group == 'A' || datum.group == 'B')", "value": {"gradient": "linear", "x1": 0, "y1": 0, "x2": 1, "y2": 0, "stops": [{"offset": 0, "color": "#d4237c"}, {"offset": 0.5, "color": "#d97ad0"}, {"offset": 1, "color": "#d4237c"}]}}, {"test": "datum.sig == 1", "value": {"gradient": "linear", "x1": 0, "y1": 0, "x2": 1, "y2": 0, "stops": [{"offset": 0, "color": "#c4d22a"}, {"offset": 0.5, "color": "#6cb443"}, {"offset": 1, "color": "#c4d22a"}]}}], "value": "white"}}},
  {"transform": [{"filter": "isValid(datum.q1)"}], "mark": {"type": "tick", "color": "black", "size": 21, "thickness": 1.4, "opacity": 1}, "encoding": {"y": {"field": "median", "type": "quantitative", "title": "Relative Abundance"}}},
  {"transform": [{"filter": "isValid(datum.outlier)"}], "mark": {"type": "point", "filled": true, "shape": "M-1,0A1,0.55,0,1,1,1,0A1,0.55,0,1,1,-1,0Z", "size": 81, "stroke": "#222", "strokeWidth": 1.2, "opacity": 1}, "encoding": {"y": {"field": "outlier", "type": "quantitative", "title": "Relative Abundance"}, "fill": {"condition": [{"test": "datum.sig == 1 && (datum.group == 'A' || datum.group == 'B')", "value": "#d6338a"}, {"test": "datum.sig == 1", "value": "#a9c43c"}], "value": "white"}}},
  {"transform": [{"filter": "isValid(datum.star)"}], "mark": {"type": "text", "text": "***", "fontSize": 8, "fontWeight": "bold", "color": "#333", "baseline": "middle", "dy": 2}, "encoding": {"y": {"field": "star", "type": "quantitative", "title": "Relative Abundance"}}}
 ]
},
{
 "title": {"text": "Parascardovia", "anchor": "start", "dx": 5},
 "width": 195, "height": 106, "data": {"name": "rows"},
 "transform": [{"filter": "datum.panel == 'Parascardovia'"}],
 "encoding": {"x": {"field": "group", "type": "nominal", "title": null, "scale": {"domain": ["A","B","C","D","E"], "paddingInner": 0, "paddingOuter": 0.62, "align": 0.36}}},
 "layer": [
  {"transform": [{"filter": "isValid(datum.q1) && datum.group == 'C'"}], "mark": {"type": "rect", "fill": "#f6f4d2"}, "encoding": {"x": {"field": "group", "type": "nominal", "bandPosition": 0}, "x2": {"value": 0}, "y": {"value": 0}, "y2": {"value": "height"}}},
  {"transform": [{"filter": "isValid(datum.q1)"}], "mark": {"type": "rule", "color": "black", "strokeWidth": 1.4}, "encoding": {"y": {"field": "lo", "type": "quantitative", "title": "Relative Abundance", "scale": {"domain": [-0.094, 0.7]}, "axis": {"values": [0, 0.1, 0.2, 0.3, 0.4, 0.5, 0.6], "tickCount": 20, "format": ".1f", "labelOverlap": false, "labelExpr": "datum.value == 0 ? datum.label : replace(datum.label, '0.', '.')"}}, "y2": {"field": "hi"}}},
  {"transform": [{"filter": "isValid(datum.q1)"}], "mark": {"type": "tick", "color": "black", "size": 17, "thickness": 1.4, "opacity": 1}, "encoding": {"y": {"field": "lo", "type": "quantitative", "title": "Relative Abundance"}}},
  {"transform": [{"filter": "isValid(datum.q1)"}], "mark": {"type": "tick", "color": "black", "size": 17, "thickness": 1.4, "opacity": 1}, "encoding": {"y": {"field": "hi", "type": "quantitative", "title": "Relative Abundance"}}},
  {"transform": [{"filter": "isValid(datum.q1)"}], "mark": {"type": "bar", "width": 21, "stroke": "black", "strokeWidth": 1.4, "opacity": 1}, "encoding": {"y": {"field": "q1", "type": "quantitative", "title": "Relative Abundance"}, "y2": {"field": "q3"}, "fill": {"condition": [{"test": "datum.sig == 1 && (datum.group == 'A' || datum.group == 'B')", "value": {"gradient": "linear", "x1": 0, "y1": 0, "x2": 1, "y2": 0, "stops": [{"offset": 0, "color": "#d4237c"}, {"offset": 0.5, "color": "#d97ad0"}, {"offset": 1, "color": "#d4237c"}]}}, {"test": "datum.sig == 1", "value": {"gradient": "linear", "x1": 0, "y1": 0, "x2": 1, "y2": 0, "stops": [{"offset": 0, "color": "#c4d22a"}, {"offset": 0.5, "color": "#6cb443"}, {"offset": 1, "color": "#c4d22a"}]}}], "value": "white"}}},
  {"transform": [{"filter": "isValid(datum.q1)"}], "mark": {"type": "tick", "color": "black", "size": 21, "thickness": 1.4, "opacity": 1}, "encoding": {"y": {"field": "median", "type": "quantitative", "title": "Relative Abundance"}}},
  {"transform": [{"filter": "isValid(datum.outlier)"}], "mark": {"type": "point", "filled": true, "shape": "M-1,0A1,0.55,0,1,1,1,0A1,0.55,0,1,1,-1,0Z", "size": 81, "stroke": "#222", "strokeWidth": 1.2, "opacity": 1}, "encoding": {"y": {"field": "outlier", "type": "quantitative", "title": "Relative Abundance"}, "fill": {"condition": [{"test": "datum.sig == 1 && (datum.group == 'A' || datum.group == 'B')", "value": "#d6338a"}, {"test": "datum.sig == 1", "value": "#a9c43c"}], "value": "white"}}},
  {"transform": [{"filter": "isValid(datum.star)"}], "mark": {"type": "text", "text": "***", "fontSize": 8, "fontWeight": "bold", "color": "#333", "baseline": "middle", "dy": 2}, "encoding": {"y": {"field": "star", "type": "quantitative", "title": "Relative Abundance"}}}
 ]
},
{
 "title": {"text": "Streptococcus", "anchor": "end", "dx": -8},
 "width": 196, "height": 106, "data": {"name": "rows"},
 "transform": [{"filter": "datum.panel == 'Streptococcus'"}],
 "encoding": {"x": {"field": "group", "type": "nominal", "title": null, "scale": {"domain": ["A","B","C","D","E"], "paddingInner": 0, "paddingOuter": 0.404, "align": 0.37}}},
 "layer": [
  {"transform": [{"filter": "isValid(datum.q1) && datum.group == 'C'"}], "mark": {"type": "rect", "fill": "#f6f4d2"}, "encoding": {"x": {"field": "group", "type": "nominal", "bandPosition": 0}, "x2": {"value": 0}, "y": {"value": 0}, "y2": {"value": "height"}}},
  {"transform": [{"filter": "isValid(datum.q1)"}], "mark": {"type": "rule", "color": "black", "strokeWidth": 1.4}, "encoding": {"y": {"field": "lo", "type": "quantitative", "title": "Relative Abundance", "scale": {"domain": [-0.043, 0.356]}, "axis": {"values": [0, 0.05, 0.1, 0.15, 0.2, 0.25, 0.3], "tickCount": 20, "format": ".2f", "labelOverlap": false, "labelExpr": "datum.value == 0 ? datum.label : replace(datum.label, '0.', '.')"}}, "y2": {"field": "hi"}}},
  {"transform": [{"filter": "isValid(datum.q1)"}], "mark": {"type": "tick", "color": "black", "size": 17, "thickness": 1.4, "opacity": 1}, "encoding": {"y": {"field": "lo", "type": "quantitative", "title": "Relative Abundance"}}},
  {"transform": [{"filter": "isValid(datum.q1)"}], "mark": {"type": "tick", "color": "black", "size": 17, "thickness": 1.4, "opacity": 1}, "encoding": {"y": {"field": "hi", "type": "quantitative", "title": "Relative Abundance"}}},
  {"transform": [{"filter": "isValid(datum.q1)"}], "mark": {"type": "bar", "width": 21, "stroke": "black", "strokeWidth": 1.4, "opacity": 1}, "encoding": {"y": {"field": "q1", "type": "quantitative", "title": "Relative Abundance"}, "y2": {"field": "q3"}, "fill": {"condition": [{"test": "datum.sig == 1 && (datum.group == 'A' || datum.group == 'B')", "value": {"gradient": "linear", "x1": 0, "y1": 0, "x2": 1, "y2": 0, "stops": [{"offset": 0, "color": "#d4237c"}, {"offset": 0.5, "color": "#d97ad0"}, {"offset": 1, "color": "#d4237c"}]}}, {"test": "datum.sig == 1", "value": {"gradient": "linear", "x1": 0, "y1": 0, "x2": 1, "y2": 0, "stops": [{"offset": 0, "color": "#c4d22a"}, {"offset": 0.5, "color": "#6cb443"}, {"offset": 1, "color": "#c4d22a"}]}}], "value": "white"}}},
  {"transform": [{"filter": "isValid(datum.q1)"}], "mark": {"type": "tick", "color": "black", "size": 21, "thickness": 1.4, "opacity": 1}, "encoding": {"y": {"field": "median", "type": "quantitative", "title": "Relative Abundance"}}},
  {"transform": [{"filter": "isValid(datum.outlier)"}], "mark": {"type": "point", "filled": true, "shape": "M-1,0A1,0.55,0,1,1,1,0A1,0.55,0,1,1,-1,0Z", "size": 81, "stroke": "#222", "strokeWidth": 1.2, "opacity": 1}, "encoding": {"y": {"field": "outlier", "type": "quantitative", "title": "Relative Abundance"}, "fill": {"condition": [{"test": "datum.sig == 1 && (datum.group == 'A' || datum.group == 'B')", "value": "#d6338a"}, {"test": "datum.sig == 1", "value": "#a9c43c"}], "value": "white"}}},
  {"transform": [{"filter": "isValid(datum.star)"}], "mark": {"type": "text", "text": "***", "fontSize": 8, "fontWeight": "bold", "color": "#333", "baseline": "middle", "dy": 2}, "encoding": {"y": {"field": "star", "type": "quantitative", "title": "Relative Abundance"}}}
 ]
},
{
 "title": {"text": "Neisseriaceae_Unknown", "anchor": "start", "dx": 6},
 "width": 195, "height": 106, "data": {"name": "rows"},
 "transform": [{"filter": "datum.panel == 'Neisseriaceae_Unknown'"}],
 "encoding": {"x": {"field": "group", "type": "nominal", "title": null, "scale": {"domain": ["A","B","C","D","E"], "paddingInner": 0, "paddingOuter": 0.62, "align": 0.36}}},
 "layer": [
  {"transform": [{"filter": "isValid(datum.q1) && datum.group == 'C'"}], "mark": {"type": "rect", "fill": "#f6f4d2"}, "encoding": {"x": {"field": "group", "type": "nominal", "bandPosition": 0}, "x2": {"value": 0}, "y": {"value": 0}, "y2": {"value": "height"}}},
  {"transform": [{"filter": "isValid(datum.q1)"}], "mark": {"type": "rule", "color": "black", "strokeWidth": 1.4}, "encoding": {"y": {"field": "lo", "type": "quantitative", "title": "Relative Abundance", "scale": {"domain": [-0.086, 0.411]}, "axis": {"values": [0, 0.1, 0.2, 0.3], "tickCount": 20, "format": ".1f", "labelOverlap": false, "labelExpr": "datum.value == 0 ? datum.label : replace(datum.label, '0.', '.')"}}, "y2": {"field": "hi"}}},
  {"transform": [{"filter": "isValid(datum.q1)"}], "mark": {"type": "tick", "color": "black", "size": 17, "thickness": 1.4, "opacity": 1}, "encoding": {"y": {"field": "lo", "type": "quantitative", "title": "Relative Abundance"}}},
  {"transform": [{"filter": "isValid(datum.q1)"}], "mark": {"type": "tick", "color": "black", "size": 17, "thickness": 1.4, "opacity": 1}, "encoding": {"y": {"field": "hi", "type": "quantitative", "title": "Relative Abundance"}}},
  {"transform": [{"filter": "isValid(datum.q1)"}], "mark": {"type": "bar", "width": 21, "stroke": "black", "strokeWidth": 1.4, "opacity": 1}, "encoding": {"y": {"field": "q1", "type": "quantitative", "title": "Relative Abundance"}, "y2": {"field": "q3"}, "fill": {"condition": [{"test": "datum.sig == 1 && (datum.group == 'A' || datum.group == 'B')", "value": {"gradient": "linear", "x1": 0, "y1": 0, "x2": 1, "y2": 0, "stops": [{"offset": 0, "color": "#d4237c"}, {"offset": 0.5, "color": "#d97ad0"}, {"offset": 1, "color": "#d4237c"}]}}, {"test": "datum.sig == 1", "value": {"gradient": "linear", "x1": 0, "y1": 0, "x2": 1, "y2": 0, "stops": [{"offset": 0, "color": "#c4d22a"}, {"offset": 0.5, "color": "#6cb443"}, {"offset": 1, "color": "#c4d22a"}]}}], "value": "white"}}},
  {"transform": [{"filter": "isValid(datum.q1)"}], "mark": {"type": "tick", "color": "black", "size": 21, "thickness": 1.4, "opacity": 1}, "encoding": {"y": {"field": "median", "type": "quantitative", "title": "Relative Abundance"}}},
  {"transform": [{"filter": "isValid(datum.outlier)"}], "mark": {"type": "point", "filled": true, "shape": "M-1,0A1,0.55,0,1,1,1,0A1,0.55,0,1,1,-1,0Z", "size": 81, "stroke": "#222", "strokeWidth": 1.2, "opacity": 1}, "encoding": {"y": {"field": "outlier", "type": "quantitative", "title": "Relative Abundance"}, "fill": {"condition": [{"test": "datum.sig == 1 && (datum.group == 'A' || datum.group == 'B')", "value": "#d6338a"}, {"test": "datum.sig == 1", "value": "#a9c43c"}], "value": "white"}}},
  {"transform": [{"filter": "isValid(datum.star)"}], "mark": {"type": "text", "text": "***", "fontSize": 8, "fontWeight": "bold", "color": "#333", "baseline": "middle", "dy": 2}, "encoding": {"y": {"field": "star", "type": "quantitative", "title": "Relative Abundance"}}}
 ]
}
]
}
